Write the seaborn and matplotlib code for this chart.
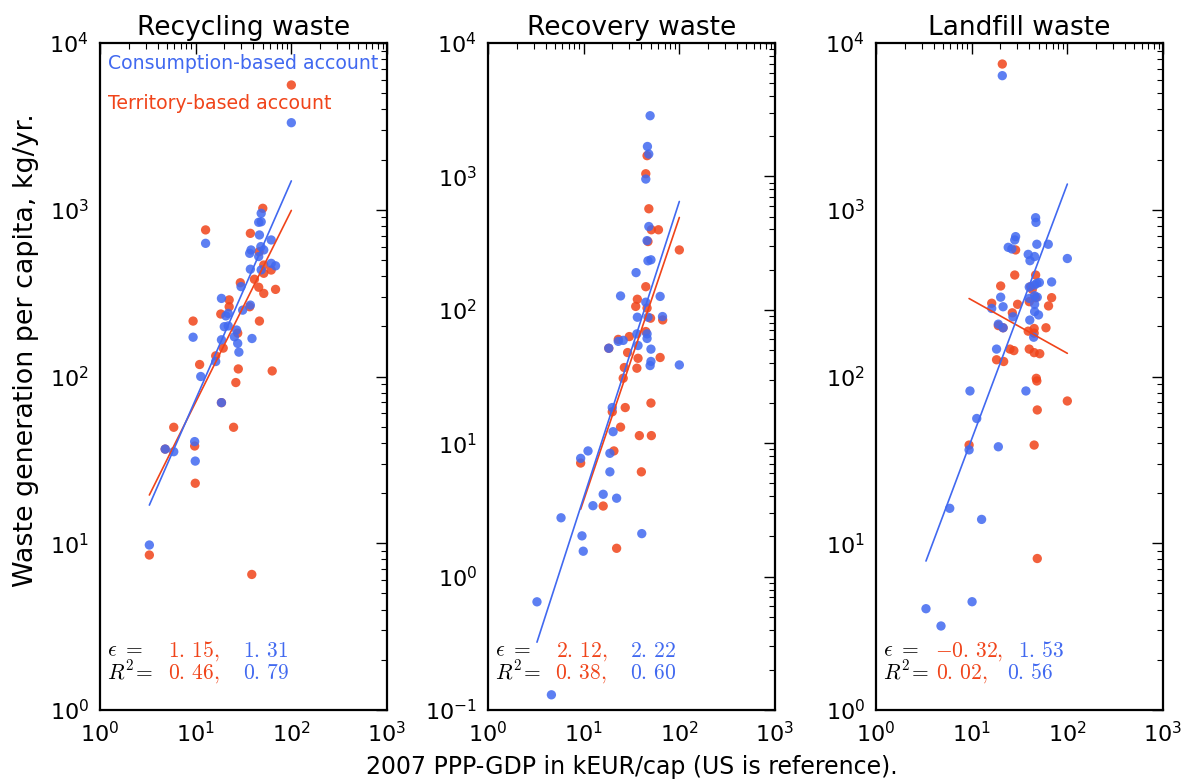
import numpy as np
import pandas as pd
import matplotlib
matplotlib.use("Agg")
import matplotlib.pyplot as plt
import seaborn as sns

# panel titles
titles = ["Recycling waste", "Recovery waste", "Landfill waste"]

# territory-based account (red), x = GDP kEUR/cap, y = kg/yr per capita
terr_x_rec = [100, 12.7, 50.3, 37.3, 29.3, 41.1, 45.6, 51.5, 68.4, 51.5, 51.5, 61.6, 22.4, 22.4, 18.3,
              36.7, 9.4, 46.4, 27.5, 19.4, 16.2, 11.0, 27.9, 63.1, 26.3, 5.9, 24.9, 18.6, 4.8, 9.76,
              9.9, 3.28, 38.6, 46.0]
terr_y_rec = [5600, 757, 1020, 722, 365, 383, 343, 315, 333, 466, 416, 435, 288, 262, 237,
              262, 215, 215, 182, 148, 133, 118, 111, 108, 92, 49.6, 49.6, 69.7, 36.7, 38.3,
              22.9, 8.5, 6.5, 560]
cons_x_rec = [100, 12.7, 48.4, 48.4, 45.6, 46.4, 61.6, 37.9, 48, 51.5, 36.7, 45.6, 61.6, 68.4, 37.3,
              48.4, 29.8, 18.6, 37.3, 31, 21.9, 20.7, 19.9, 21.9, 26.8, 25.4, 27.5, 28.3, 18.6, 38.8,
              9.4, 16.2, 11.3, 18.6, 4.8, 5.9, 9.76, 9.9, 3.28]
cons_y_rec = [3327, 629, 952, 847, 841, 706, 659, 574, 601, 574, 548, 524, 477, 461, 440,
              436, 346, 294, 268, 250, 239, 231, 199, 201, 190, 173, 158, 140, 166, 169,
              172, 123, 100, 69.7, 36.7, 35.4, 40.7, 31.1, 9.76]

terr_x_rcv = [46, 44.6, 48, 51, 60.5, 47, 100, 44.6, 36.4, 35, 46, 50, 67, 44.6, 30,
              23, 28.8, 37, 63, 36, 26.6, 25.9, 27.2, 50.5, 19.9, 24.3, 18.3, 38.2, 51, 20.7,
              9.3, 40.1, 16, 22.1]
terr_y_rcv = [1430, 1047, 572, 398, 398, 325, 281, 149, 120, 106, 103, 86.5, 84, 68.7, 63,
              60, 47.8, 43.3, 43.9, 36.5, 36.9, 30.7, 18.5, 20, 17.2, 13.2, 51.5, 11.4, 11.4, 8.75,
              7.1, 6.1, 3.38, 1.63]
cons_x_rcv = [49.5, 46.4, 47.9, 44.6, 48, 46, 47, 50.5, 35.3, 24.3, 63, 44.6, 36.4, 47, 66.7,
              46, 36, 46, 25.9, 23, 18.3, 37, 50.5, 50.5, 49.5, 100, 19.9, 20.3, 11.1, 18.8,
              9.3, 18.8, 16, 22.1, 12.5, 5.8, 9.6, 40.5, 9.9, 3.25, 4.6]
cons_y_rcv = [2850, 1676, 1470, 955, 421, 330, 233, 237, 190, 127, 126, 114, 88, 88, 89,
              66, 66, 61, 59, 58, 51.5, 54, 50.7, 41, 38.2, 38.6, 18.5, 12.2, 8.75, 8.4,
              7.7, 6.1, 4.14, 3.87, 3.4, 2.76, 2.02, 2.1, 1.55, 0.647, 0.13]

terr_x_lf = [20.9, 28.8, 28.2, 20.1, 46.6, 41.4, 43, 68.5, 46.6, 40, 30.2, 16.2, 63.6, 26.6, 19,
             21.3, 59.8, 39, 45, 45, 25.1, 27.6, 40, 45, 51.5, 18.2, 21.6, 47.4, 48, 100,
             48.5, 9.4, 45, 48.5]
terr_y_lf = [7480, 574, 406, 349, 406, 346, 333, 297, 297, 281, 271, 275, 265, 241, 202,
             196, 196, 187, 194, 182, 146, 143, 146, 139, 137, 126, 123, 97.5, 94, 71.3,
             63, 38.8, 38.8, 8.1]
cons_x_lf = [20.9, 46.6, 47, 28.8, 28.2, 48, 63.2, 24.1, 26.3, 39, 45.5, 40.7, 100, 40, 45.5,
             48, 51, 68.5, 45.5, 48.5, 40, 20.1, 45.5, 21.3, 16.2, 27, 45.5, 50, 40.5, 19,
             21.3, 44.5, 18.2, 9.6, 36.9, 11.3, 9.4, 19, 5.9, 12.7, 10.1, 3.33, 4.78]
cons_y_lf = [6370, 896, 840, 690, 659, 621, 621, 595, 582, 540, 524, 495, 510, 344, 354,
             362, 366, 369, 305, 299, 294, 299, 271, 262, 256, 228, 245, 234, 218, 206,
             196, 172, 146, 81.9, 81.9, 56, 36.3, 37.9, 16.2, 13.9, 4.46, 4.05, 3.19]

# fitted elasticities, log10 intercepts and R^2
eps_terr = [1.15, 2.12, -0.32]
eps_cons = [1.31, 2.22, 1.53]
icpt_terr = [0.696, -1.548, 2.779]
icpt_cons = [0.553, -1.628, 0.094]
r2_terr = [0.46, 0.38, 0.02]
r2_cons = [0.79, 0.60, 0.56]

ylims = [(1, 1e4), (0.1, 1e4), (1, 1e4)]

RED = "#f0441a"
BLUE = "#4169f0"

sns.set_style("white")
plt.rcParams["font.family"] = ["DejaVu Sans"]
plt.rcParams.update({"text.color": "black", "axes.labelcolor": "black",
                     "xtick.color": "black", "ytick.color": "black"})

fig = plt.figure(figsize=(11.91, 7.8), dpi=100)
lefts = [100 / 1191, 488 / 1191, 876 / 1191]
axes = [fig.add_axes([l, 70 / 780, 287 / 1191, 667 / 780]) for l in lefts]

data = [(terr_x_rec, terr_y_rec, cons_x_rec, cons_y_rec),
        (terr_x_rcv, terr_y_rcv, cons_x_rcv, cons_y_rcv),
        (terr_x_lf, terr_y_lf, cons_x_lf, cons_y_lf)]

# text positions (axes fraction) for the fit numbers
red_x1 = [0.237, 0.237, 0.205]
blue_x1 = [0.497, 0.495, 0.495]
red_x2 = [0.237, 0.235, 0.21]
blue_x2 = [0.497, 0.495, 0.457]


def num(v, comma):
    # old mathtext look: a small gap after the decimal point
    s = ("%.2f" % v).replace(".", r".\,")
    return "$" + s + ("," if comma else "") + "$"


for i, ax in enumerate(axes):
    tx, ty, cx, cy = data[i]
    df = pd.DataFrame({
        "gdp": tx + cx,
        "waste": ty + cy,
        "account": ["Territory"] * len(tx) + ["Consumption"] * len(cx),
    })
    sns.scatterplot(data=df, x="gdp", y="waste", hue="account",
                    palette={"Territory": RED, "Consumption": BLUE},
                    s=45, alpha=0.85, linewidth=0, legend=False, ax=ax, zorder=2)
    ax.set_xscale("log")
    ax.set_yscale("log")

    # fitted lines over the x range of each series
    for xs, e, b, col in [(tx, eps_terr[i], icpt_terr[i], RED), (cx, eps_cons[i], icpt_cons[i], BLUE)]:
        xx = np.array([min(xs), max(xs)])
        yy = 10 ** (b + e * np.log10(xx))
        ax.plot(xx, yy, color=col, lw=1.2, zorder=3)

    ax.set_xlim(1, 1e3)
    ax.set_ylim(*ylims[i])
    ax.set_xlabel("")
    ax.set_ylabel("")
    ax.set_title(titles[i], fontsize=19, pad=6)
    ax.tick_params(which="major", direction="in", length=8, width=1, top=True, right=True,
                   labelsize=16, pad=8)
    ax.tick_params(which="minor", direction="in", length=4, width=0.8, top=True, right=True)
    for sp in ax.spines.values():
        sp.set_linewidth(1.6)
        sp.set_color("black")

    kw = dict(transform=ax.transAxes, fontsize=15.5, math_fontfamily="cm", va="baseline")
    ax.text(0.025, 0.08, r"$\epsilon\ =$", color="black", **kw)
    ax.text(red_x1[i], 0.08, num(eps_terr[i], True), color=RED, **kw)
    ax.text(blue_x1[i], 0.08, num(eps_cons[i], False), color=BLUE, **kw)
    ax.text(0.025, 0.047, r"$R^2\!=$", color="black", **kw)
    ax.text(red_x2[i], 0.047, num(r2_terr[i], True), color=RED, **kw)
    ax.text(blue_x2[i], 0.047, num(r2_cons[i], False), color=BLUE, **kw)

axes[0].text(0.028, 0.969, "Consumption-based account", color=BLUE, fontsize=13.6,
             transform=axes[0].transAxes, va="center")
axes[0].text(0.028, 0.91, "Territory-based account", color=RED, fontsize=13.6,
             transform=axes[0].transAxes, va="center")

fig.text(26 / 1191, 1 - 350 / 780, "Waste generation per capita, kg/yr.", rotation=90,
         fontsize=19.4, ha="center", va="center")
fig.text(631.5 / 1191, 0.017, "2007 PPP-GDP in kEUR/cap (US is reference).",
         fontsize=17, ha="center", va="center")

fig.savefig("out.png", dpi=100)
